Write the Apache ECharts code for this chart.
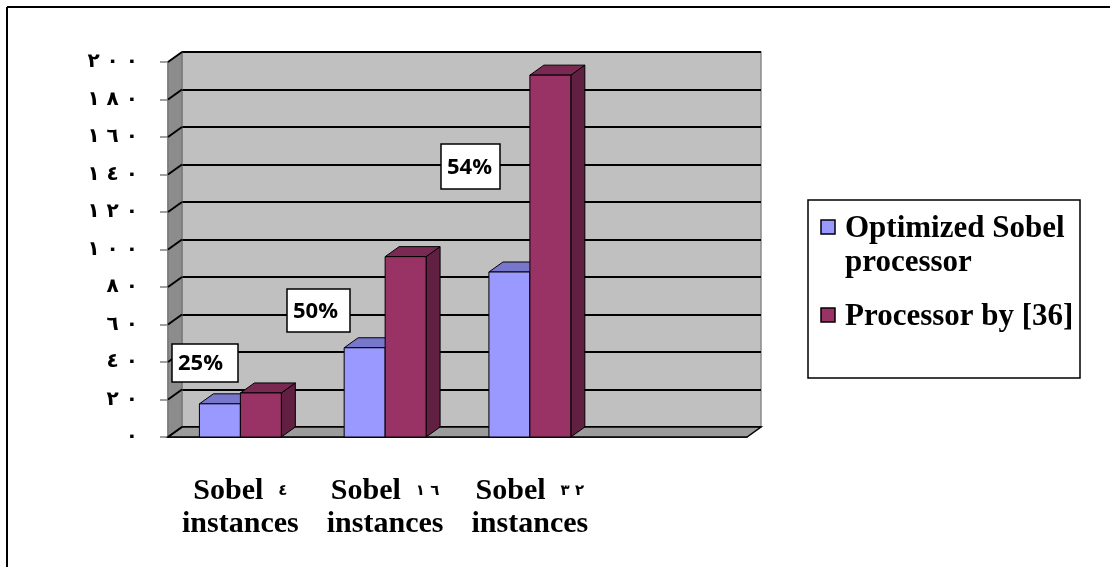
<!DOCTYPE html>
<html>
<head>
<meta charset="utf-8">
<script src="https://cdn.jsdelivr.net/npm/echarts@6/dist/echarts.min.js"></script>
<style>
  html, body { margin: 0; padding: 0; background: #fff; }
  #chart { width: 1110px; height: 567px; }
</style>
</head>
<body>
<div id="chart"></div>
<script>
// data
const categories = ['Sobel ٤ instances', 'Sobel ١٦ instances', 'Sobel ٣٢ instances', '']
const seriesNames = ['Optimized Sobel processor', 'Processor by [36]']
const optimizedValues = [17.7, 47.6, 88]
const processor36Values = [23.5, 96.2, 193]
const yTickValues = [0, 20, 40, 60, 80, 100, 120, 140, 160, 180, 200]
const yTickLabels = ['٠', '٢٠', '٤٠', '٦٠', '٨٠', '١٠٠', '١٢٠', '١٤٠', '١٦٠', '١٨٠', '٢٠٠']
const pctLabels = ['25%', '50%', '54%']

const colors = [
  { front: '#9999ff', top: '#7777cc', side: '#5c5cb0' },
  { front: '#993366', top: '#7a2952', side: '#611f42' }
]

// depth of the fake 3d
const DX = 14
const DY = 10

// spaced digits, LRM keeps them left to right
const spaceDigits = (s) => s.split('').join('\u200E \u200E')

const chart = echarts.init(document.getElementById('chart'))

const renderBar = (s) => (params, api) => {
  const cat = api.value(0)
  const v = api.value(1)
  const top = api.coord([cat, v])
  const base = api.coord([cat, 0])
  const band = api.size([1, 0])[0]
  const w = band * 0.283
  const x0 = s === 0 ? top[0] - w : top[0]
  const x1 = x0 + w
  const c = colors[s]
  const stroke = { stroke: '#000', lineWidth: 1 }
  return {
    type: 'group',
    children: [
      {
        type: 'polygon',
        shape: { points: [[x1, top[1]], [x1 + DX, top[1] - DY], [x1 + DX, base[1] - DY], [x1, base[1]]] },
        style: Object.assign({ fill: c.side }, stroke)
      },
      {
        type: 'polygon',
        shape: { points: [[x0, top[1]], [x0 + DX, top[1] - DY], [x1 + DX, top[1] - DY], [x1, top[1]]] },
        style: Object.assign({ fill: c.top }, stroke)
      },
      {
        type: 'rect',
        shape: { x: x0, y: top[1], width: w, height: base[1] - top[1] },
        style: Object.assign({ fill: c.front }, stroke)
      }
    ]
  }
}

const renderWalls = (params, api) => {
  const band = api.size([1, 0])[0]
  const xl = api.coord([0, 0])[0] - band / 2
  const xr = xl + band * categories.length
  const y0 = api.coord([0, 0])[1]
  const yMax = api.coord([0, 200])[1]
  const y = api.coord([0, api.value(1)])[1]
  const children = []
  if (params.dataIndex === 0) {
    children.push({
      type: 'polygon',
      shape: { points: [[xl, y0], [xl, yMax], [xl + DX, yMax - DY], [xl + DX, y0 - DY]] },
      style: { fill: '#8c8c8c', stroke: '#6e6e6e', lineWidth: 1 }
    })
    children.push({
      type: 'polygon',
      shape: { points: [[xl, y0], [xr, y0], [xr + DX, y0 - DY], [xl + DX, y0 - DY]] },
      style: { fill: '#9c9c9c', stroke: '#000', lineWidth: 1.5 }
    })
  }
  children.push({
    type: 'line',
    shape: { x1: xl, y1: y, x2: xl + DX, y2: y - DY },
    style: { stroke: '#000', lineWidth: 2 }
  })
  return { type: 'group', children }
}

const pctBoxes = [
  [172, 344, 66, 38],
  [287, 289, 63, 43],
  [441, 144, 59, 45]
]

const graphic = [
  { type: 'line', shape: { x1: 7, y1: 7, x2: 7, y2: 567 }, style: { stroke: '#000', lineWidth: 2 } },
  { type: 'line', shape: { x1: 7, y1: 7, x2: 1110, y2: 7 }, style: { stroke: '#000', lineWidth: 2 } }
]

pctBoxes.forEach((b, i) => {
  graphic.push({
    type: 'rect',
    z: 100,
    shape: { x: b[0], y: b[1], width: b[2], height: b[3] },
    style: { fill: '#fff', stroke: '#000', lineWidth: 1.5 }
  })
  graphic.push({
    type: 'text',
    z: 101,
    x: b[0] + 6,
    y: b[1] + b[3] / 2 + 1,
    style: {
      text: pctLabels[i],
      fill: '#000',
      font: 'bold 22px "Open Sans"',
      textAlign: 'left',
      textVerticalAlign: 'middle'
    }
  })
})

// legend box
const legendFont = 'bold 31px "Liberation Serif"'
graphic.push(
  { type: 'rect', z: 100, shape: { x: 808, y: 200, width: 272, height: 178 }, style: { fill: '#fff', stroke: '#000', lineWidth: 1.5 } },
  { type: 'rect', z: 101, shape: { x: 821, y: 220, width: 14, height: 14 }, style: { fill: colors[0].front, stroke: '#000', lineWidth: 1.5 } },
  {
    type: 'text', z: 101, x: 845, y: 212,
    style: { text: seriesNames[0].replace(' processor', '\nprocessor'), fill: '#000', font: legendFont, lineHeight: 34 }
  },
  { type: 'rect', z: 101, shape: { x: 821, y: 308, width: 14, height: 14 }, style: { fill: colors[1].front, stroke: '#000', lineWidth: 1.5 } },
  {
    type: 'text', z: 101, x: 845, y: 300,
    style: { text: seriesNames[1], fill: '#000', font: legendFont, lineHeight: 34 }
  }
)

const option = {
  animation: false,
  grid: [
    { left: 168, top: 62, width: 579, height: 375 },
    { left: 168 + DX, top: 62 - DY, width: 579, height: 375, show: true, backgroundColor: '#c0c0c0', borderColor: '#8a8a8a', borderWidth: 1.5, z: 0 }
  ],
  xAxis: [
    {
      type: 'category',
      gridIndex: 0,
      data: categories,
      axisLine: { lineStyle: { color: '#000', width: 1.5 } },
      axisTick: { length: 9, lineStyle: { color: '#808080', width: 1.5 } },
      axisLabel: {
        interval: 0,
        margin: 38,
        color: '#000',
        fontFamily: 'Liberation Serif',
        fontWeight: 'bold',
        fontSize: 30,
        lineHeight: 33,
        formatter: (name) => name
          .replace(/([٠-٩]+)/, (m) => ' {d|' + spaceDigits(m) + '}')
          .replace(' instances', '\ninstances'),
        rich: {
          d: { fontFamily: 'DejaVu Sans', fontWeight: 'bold', fontSize: 15, color: '#000', lineHeight: 33 }
        }
      }
    },
    { type: 'category', gridIndex: 1, data: categories, show: false }
  ],
  yAxis: [
    {
      type: 'value',
      gridIndex: 0,
      min: 0,
      max: 200,
      interval: 20,
      splitLine: { show: false },
      axisLine: { show: true, lineStyle: { color: '#808080', width: 1.5 } },
      axisTick: { show: true, length: 8, lineStyle: { color: '#808080', width: 1.5 } },
      axisLabel: {
        margin: 30,
        color: '#000',
        fontFamily: 'DejaVu Sans',
        fontWeight: 'bold',
        fontSize: 20,
        formatter: (v) => spaceDigits(yTickLabels[yTickValues.indexOf(v)])
      }
    },
    {
      type: 'value',
      gridIndex: 1,
      min: 0,
      max: 200,
      interval: 20,
      axisLine: { show: false },
      axisTick: { show: false },
      axisLabel: { show: false },
      splitLine: { lineStyle: { color: '#000', width: 2 } }
    }
  ],
  series: [
    {
      name: 'walls',
      type: 'custom',
      xAxisIndex: 0,
      yAxisIndex: 0,
      clip: false,
      silent: true,
      renderItem: renderWalls,
      data: yTickValues.map(v => [0, v])
    },
    {
      name: seriesNames[0],
      type: 'custom',
      xAxisIndex: 0,
      yAxisIndex: 0,
      clip: false,
      renderItem: renderBar(0),
      encode: { x: 0, y: 1 },
      data: optimizedValues.map((v, i) => [i, v])
    },
    {
      name: seriesNames[1],
      type: 'custom',
      xAxisIndex: 0,
      yAxisIndex: 0,
      clip: false,
      renderItem: renderBar(1),
      encode: { x: 0, y: 1 },
      data: processor36Values.map((v, i) => [i, v])
    }
  ],
  graphic
}

chart.setOption(option)

window.addEventListener('resize', () => {
  chart.resize()
})
</script>
</body>
</html>
